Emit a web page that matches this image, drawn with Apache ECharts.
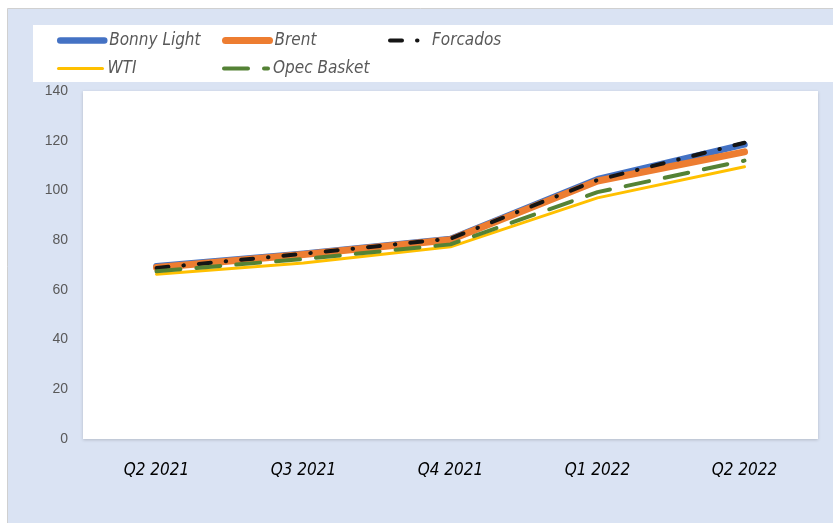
<!DOCTYPE html>
<html>
<head>
<meta charset="utf-8">
<script src="https://cdn.jsdelivr.net/npm/echarts@6/dist/echarts.min.js"></script>
<style>
  html, body { margin: 0; padding: 0; background: #fff; }
  #chart { width: 833px; height: 523px; }
</style>
</head>
<body>
<div id="chart"></div>
<script>
const quarters = ['Q2 2021', 'Q3 2021', 'Q4 2021', 'Q1 2022', 'Q2 2022']
const bonnyLight = [69.5, 74.5, 80.5, 104.5, 118.5]
const brent = [69.0, 74.2, 80.2, 103.8, 115.5]
const forcados = [68.8, 74.5, 80.6, 104.2, 119.2]
const wti = [66.3, 70.8, 77.3, 97.0, 109.5]
const opecBasket = [67.5, 72.4, 78.3, 99.3, 112.0]

const narrowFont = 'Liberation Sans Narrow, DejaVu Sans Condensed, Liberation Sans, sans-serif'

const legendFont = {
  fontFamily: narrowFont,
  fontStyle: 'italic',
  fontSize: 17,
  color: '#595959'
}

// one legend per entry so the items sit in columns like the original
const legendAt = (name, left, top, itemWidth) => ({
  data: [name],
  left,
  top,
  padding: 0,
  itemWidth: itemWidth || 44,
  itemHeight: 14,
  itemGap: 0,
  selectedMode: false,
  itemStyle: { opacity: 0, borderWidth: 0 },
  lineStyle: { width: 'inherit', type: 'inherit', cap: 'round' },
  textStyle: legendFont
})

const chart = echarts.init(document.getElementById('chart'), null, { renderer: 'canvas' })

chart.setOption({
  backgroundColor: '#ffffff',
  animation: false,
  graphic: [
    {
      type: 'rect',
      z: -10,
      shape: { x: 7.5, y: 8.5, width: 830, height: 520 },
      style: { fill: '#DAE3F3', stroke: '#d0d0d0', lineWidth: 1 }
    },
    {
      type: 'rect',
      z: -9,
      shape: { x: 33, y: 25, width: 810, height: 57 },
      style: { fill: '#ffffff' }
    }
  ],
  legend: [
    legendAt('Bonny Light', 57, 32),
    legendAt('Brent', 222, 32),
    legendAt('Forcados', 388, 32, 37),
    legendAt('WTI', 57, 60),
    legendAt('Opec Basket', 222, 60)
  ],
  grid: {
    left: 83,
    top: 91,
    width: 735,
    height: 348,
    show: true,
    backgroundColor: '#ffffff',
    borderWidth: 0,
    shadowColor: 'rgba(0,0,0,0.18)',
    shadowBlur: 3,
    shadowOffsetY: 1
  },
  xAxis: {
    type: 'category',
    data: quarters,
    boundaryGap: true,
    axisLine: { show: false },
    axisTick: { show: false },
    axisLabel: {
      margin: 23,
      fontFamily: narrowFont,
      fontStyle: 'italic',
      fontSize: 17,
      color: '#000000'
    }
  },
  yAxis: {
    type: 'value',
    min: 0,
    max: 140,
    interval: 20,
    axisLine: { show: false },
    axisTick: { show: false },
    splitLine: { show: false },
    axisLabel: {
      margin: 15,
      fontFamily: 'Liberation Sans, sans-serif',
      fontSize: 14,
      color: '#595959'
    }
  },
  series: [
    {
      name: 'Bonny Light',
      type: 'line',
      data: bonnyLight,
      symbol: 'none',
      color: '#4472C4',
      lineStyle: { width: 6.5, color: '#4472C4', cap: 'round', join: 'round' }
    },
    {
      name: 'Brent',
      type: 'line',
      data: brent,
      symbol: 'none',
      color: '#ED7D31',
      lineStyle: { width: 7, color: '#ED7D31', cap: 'round', join: 'round' }
    },
    {
      name: 'Forcados',
      type: 'line',
      data: forcados,
      symbol: 'none',
      color: '#151515',
      lineStyle: { width: 4, color: '#151515', type: [12, 15, 0.5, 15], cap: 'round', join: 'round' }
    },
    {
      name: 'WTI',
      type: 'line',
      data: wti,
      symbol: 'none',
      color: '#FFC000',
      lineStyle: { width: 3, color: '#FFC000', cap: 'round', join: 'round' }
    },
    {
      name: 'Opec Basket',
      type: 'line',
      data: opecBasket,
      symbol: 'none',
      color: '#548235',
      lineStyle: { width: 4, color: '#548235', type: [24, 16], cap: 'round', join: 'round' }
    }
  ]
})
</script>
</body>
</html>
